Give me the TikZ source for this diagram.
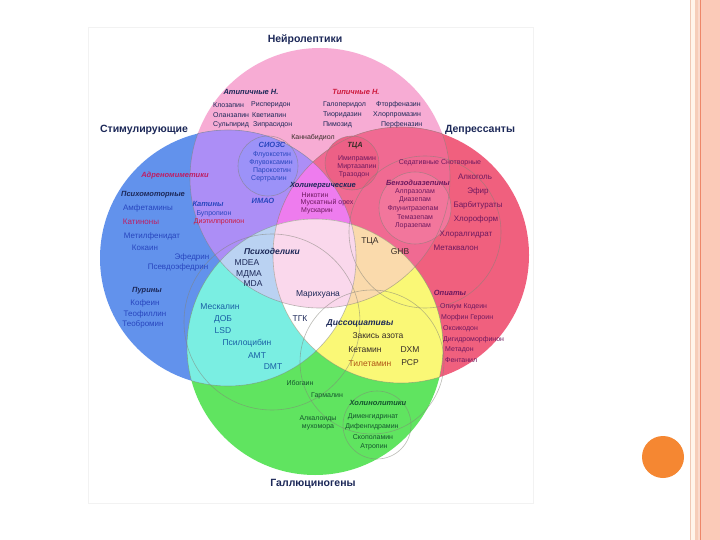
\documentclass[tikz,border=0pt]{standalone}
\usepackage{fontspec}
\setmainfont{Liberation Sans}
\definecolor{cP}{RGB}{247,172,212}
\definecolor{cB}{RGB}{98,146,236}
\definecolor{cR}{RGB}{240,96,126}
\definecolor{cG}{RGB}{96,228,96}
\definecolor{cPB}{RGB}{172,142,246}
\definecolor{cPR}{RGB}{240,106,146}
\definecolor{cBG}{RGB}{122,238,226}
\definecolor{cRG}{RGB}{250,248,118}
\definecolor{cPBR}{RGB}{238,124,238}
\definecolor{cPBG}{RGB}{186,210,242}
\definecolor{cPRG}{RGB}{250,218,172}
\definecolor{cBRG}{RGB}{255,255,255}
\definecolor{cPBRG}{RGB}{250,216,236}
\definecolor{cSSRI}{RGB}{156,146,248}
\definecolor{cTCA}{RGB}{237,96,134}
\definecolor{cBenz}{RGB}{242,118,156}
\definecolor{navy}{RGB}{28,40,88}
\definecolor{tblue}{RGB}{40,70,190}
\definecolor{tmag}{RGB}{190,30,100}
\definecolor{tpurp}{RGB}{110,25,95}
\definecolor{tteal}{RGB}{25,95,165}
\definecolor{tgreen}{RGB}{20,85,45}
\definecolor{tdark}{RGB}{55,45,40}
\definecolor{tbrown}{RGB}{175,85,20}
\definecolor{tred}{RGB}{205,25,60}
\definecolor{lineg}{RGB}{130,130,120}
\definecolor{dA}{RGB}{240,200,180}
\definecolor{dB}{RGB}{255,244,234}
\definecolor{dC}{RGB}{246,205,185}
\definecolor{dD}{RGB}{250,218,205}
\definecolor{dE}{RGB}{238,135,105}
\definecolor{dF}{RGB}{251,202,184}
\definecolor{dot}{RGB}{245,135,50}
\tikzset{
  big/.style={font=\bfseries\fontsize{10.5}{12}\selectfont, text=navy, inner sep=0pt},
  nm/.style={font=\fontsize{7}{8}\selectfont, inner sep=0pt},
  nmb/.style={font=\fontsize{8}{9}\selectfont, inner sep=0pt},
  nmc/.style={font=\fontsize{8.5}{9}\selectfont, inner sep=0pt},
  ct/.style={font=\bfseries\itshape\fontsize{7.5}{8}\selectfont, inner sep=0pt},
  gl/.style={draw=lineg, draw opacity=0.55, line width=0.6pt},
}
\def\Pc{(320,178) circle[radius=130]}
\def\Bc{(228,258) circle[radius=128]}
\def\Rc{(401,255) circle[radius=128]}
\def\Gc{(315,347) circle[radius=128]}
\begin{document}
\begin{tikzpicture}[x=1pt,y=-1pt]
\useasboundingbox (0,0) rectangle (720,540);
\fill[white] (0,0) rectangle (720,540);
\draw[black!5, line width=0.5pt] (88,27) rectangle (533,503);
% single circles
\fill[cP] \Pc; \fill[cB] \Bc; \fill[cR] \Rc; \fill[cG] \Gc;
% pairs
\begin{scope}\clip \Pc; \fill[cPB] \Bc; \end{scope}
\begin{scope}\clip \Pc; \fill[cPR] \Rc; \end{scope}
\begin{scope}\clip \Bc; \fill[cBG] \Gc; \end{scope}
\begin{scope}\clip \Rc; \fill[cRG] \Gc; \end{scope}
% triples
\begin{scope}\clip \Pc; \clip \Bc; \fill[cPBR] \Rc; \end{scope}
\begin{scope}\clip \Pc; \clip \Bc; \fill[cPBG] \Gc; \end{scope}
\begin{scope}\clip \Pc; \clip \Rc; \fill[cPRG] \Gc; \end{scope}
\begin{scope}\clip \Bc; \clip \Rc; \fill[cBRG] \Gc; \end{scope}
% all four
\begin{scope}\clip \Pc; \clip \Bc; \clip \Rc; \fill[cPBRG] \Gc; \end{scope}
% sub-circles
\begin{scope}\clip \Pc; \clip \Bc; \fill[cSSRI] (268,166) circle[radius=30]; \end{scope}
\fill[cTCA] (352,163) circle[radius=27];
\fill[cBenz] (415,208) circle[radius=36];
% inner boundaries
\begin{scope}\clip \Bc \Rc \Gc; \draw[gl] \Pc; \end{scope}
\begin{scope}\clip \Pc \Rc \Gc; \draw[gl] \Bc; \end{scope}
\begin{scope}\clip \Pc \Bc \Gc; \draw[gl] \Rc; \end{scope}
\begin{scope}\clip \Pc \Bc \Rc; \draw[gl] \Gc; \end{scope}
\draw[gl] (268,166) circle[radius=30];
\draw[gl] (352,163) circle[radius=27];
\draw[gl] (415,208) circle[radius=36];
\draw[gl] (425,232) circle[radius=76];
\draw[gl] (272,322) circle[radius=88];
\draw[gl] (372,362) circle[radius=72];
\draw[gl] (377,425) circle[radius=34];
% headers
\node[big] (neuro) at (305,40) {Нейролептики};
\node[big] (stim) at (144,130) {Стимулирующие};
\node[big] (depr) at (480,130) {Депрессанты};
\node[big] (hall) at (313,484) {Галлюциногены};
% antipsychotics
\node[ct, text=navy] (atyp) at (251,92) {Атипичные Н.};
\node[ct, text=tred] (typ) at (356,92) {Типичные Н.};
\node[nm, text=navy, anchor=west] (a1) at (213,105) {Клозапин};
\node[nm, text=navy, anchor=west] (a2) at (213,115) {Оланзапин};
\node[nm, text=navy, anchor=west] (a3) at (213,125) {Сульпирид};
\node[nm, text=navy, anchor=west] (a4) at (251,105) {Рисперидон};
\node[nm, text=navy, anchor=west] (a5) at (252,115) {Кветиапин};
\node[nm, text=navy, anchor=west] (a6) at (253,125) {Зипрасидон};
\node[nm, text=navy, anchor=west] (t1) at (323,105) {Галоперидол};
\node[nm, text=navy, anchor=west] (t2) at (323,115) {Тиоридазин};
\node[nm, text=navy, anchor=west] (t3) at (323,125) {Пимозид};
\node[nm, text=navy, anchor=west] (t4) at (376,105) {Фторфеназин};
\node[nm, text=navy, anchor=west] (t5) at (373,115) {Хлорпромазин};
\node[nm, text=navy, anchor=west] (t6) at (381,125) {Перфеназин};
\node[nm, text=tdark] (cbd) at (313,138) {Каннабидиол};
% SSRI / MAOI / TCA
\node[ct, text=tblue] (ssri) at (272,145) {СИОЗС};
\node[nm, text=tblue] (s1) at (272,155) {Флуоксетин};
\node[nm, text=tblue] (s2) at (271,163) {Флувоксамин};
\node[nm, text=tblue] (s3) at (272,171) {Пароксетин};
\node[nm, text=tblue] (s4) at (269,179) {Сертралин};
\node[ct, text=tblue] (maoi) at (263,201) {ИМАО};
\node[ct, text=tdark] (tca) at (355,146) {ТЦА};
\node[nm, text=tpurp] (c1) at (357,159) {Имипрамин};
\node[nm, text=tpurp] (c2) at (357,167) {Миртазапин};
\node[nm, text=tpurp] (c3) at (354,175) {Тразодон};
\node[ct, text=navy] (chol) at (323,186) {Холинергические};
\node[nm, text=tpurp] (h1) at (315,195) {Никотин};
\node[nm, text=tpurp] (h2) at (327,203) {Мускатный орех};
\node[nm, text=tpurp] (h3) at (317,211) {Мускарин};
% depressants
\node[nm, text=tpurp] (sed) at (440,163) {Седативные Снотворные};
\node[ct, text=tpurp] (benz) at (418,183) {Бензодиазепины};
\node[nm, text=tpurp] (b1) at (415,192) {Алпразолам};
\node[nm, text=tpurp] (b2) at (415,200) {Диазепам};
\node[nm, text=tpurp] (b3) at (413,209) {Флунитразепам};
\node[nm, text=tpurp] (b4) at (415,217) {Темазепам};
\node[nm, text=tpurp] (b5) at (413,226) {Лоразепам};
\node[nmb, text=tpurp] (d1) at (475,177) {Алкоголь};
\node[nmb, text=tpurp] (d2) at (478,191) {Эфир};
\node[nmb, text=tpurp] (d3) at (478,205) {Барбитураты};
\node[nmb, text=tpurp] (d4) at (476,219) {Хлороформ};
\node[nmb, text=tpurp] (d5) at (466,235) {Хлоралгидрат};
\node[nmb, text=tpurp] (d6) at (456,248) {Метаквалон};
% stimulants
\node[ct, text=tmag] (adr) at (175,176) {Адреномиметики};
\node[ct, text=navy] (psm) at (153,195) {Психомоторные};
\node[nmb, text=tblue] (m1) at (148,208) {Амфетамины};
\node[nmb, text=tmag] (m2) at (141,222) {Катиноны};
\node[nmb, text=tblue] (m3) at (152,236) {Метилфенидат};
\node[nmb, text=tblue] (m4) at (145,248) {Кокаин};
\node[nmb, text=tblue] (m5) at (192,257) {Эфедрин};
\node[nmb, text=tblue] (m6) at (178,267) {Псевдоэфедрин};
\node[ct, text=navy] (pur) at (147,291) {Пурины};
\node[nmb, text=tblue] (p1) at (145,303) {Кофеин};
\node[nmb, text=tblue] (p2) at (145,314) {Теофиллин};
\node[nmb, text=tblue] (p3) at (143,324) {Теобромин};
\node[ct, text=tblue] (kat) at (208,204) {Катины};
\node[nm, text=tblue] (k1) at (214,214) {Бупропион};
\node[nm, text=tred] (k2) at (219,222) {Диэтилпропион};
% centre
\node[ct, text=navy, font=\bfseries\itshape\fontsize{8.5}{9}\selectfont] (psy) at (272,251) {Психоделики};
\node[nmc, text=navy] (e1) at (247,263) {MDEA};
\node[nmc, text=navy] (e2) at (249,274) {МДМА};
\node[nmc, text=navy] (e3) at (253,284) {MDA};
\node[nmc, text=navy] (mar) at (318,294) {Марихуана};
\node[nmc, text=navy] (thc) at (300,319) {ТГК};
\node[nmc, text=tdark] (tca2) at (370,241) {ТЦА};
\node[nmc, text=tdark] (ghb) at (400,252) {GHB};
\node[ct, text=navy, font=\bfseries\itshape\fontsize{8.5}{9}\selectfont] (dis) at (360,323) {Диссоциативы};
\node[nmc, text=tdark] (x1) at (378,336) {Закись азота};
\node[nmc, text=tdark] (x2) at (365,350) {Кетамин};
\node[nmc, text=tdark] (x3) at (410,350) {DXM};
\node[nmc, text=tbrown] (x4) at (370,364) {Тилетамин};
\node[nmc, text=tdark] (x5) at (410,363) {PCP};
\node[nmc, text=tteal] (y1) at (220,307) {Мескалин};
\node[nmc, text=tteal] (y2) at (223,319) {ДОБ};
\node[nmc, text=tteal] (y3) at (223,331) {LSD};
\node[nmc, text=tteal] (y4) at (247,343) {Псилоцибин};
\node[nmc, text=tteal] (y5) at (257,356) {AMT};
\node[nmc, text=tteal] (y6) at (273,367) {DMT};
% opioids
\node[ct, text=tpurp] (opi) at (450,293) {Опиаты};
\node[nm, text=tpurp, anchor=west] (o1) at (440,307) {Опиум Кодеин};
\node[nm, text=tpurp, anchor=west] (o2) at (441,318) {Морфин Героин};
\node[nm, text=tpurp, anchor=west] (o3) at (443,329) {Оксикодон};
\node[nm, text=tpurp, anchor=west] (o4) at (443,340) {Дигидроморфинон};
\node[nm, text=tpurp, anchor=west] (o5) at (445,350) {Метадон};
\node[nm, text=tpurp, anchor=west] (o6) at (445,360) {Фентанил};
% hallucinogens bottom
\node[nm, text=tgreen] (g1) at (300,383) {Ибогаин};
\node[nm, text=tgreen] (g2) at (327,396) {Гармалин};
\node[ct, text=tgreen] (acl) at (378,403) {Холинолитики};
\node[nm, text=tgreen] (g3) at (318,419) {Алкалоиды};
\node[nm, text=tgreen] (g4) at (318,427) {мухомора};
\node[nm, text=tgreen] (g5) at (373,417) {Дименгидринат};
\node[nm, text=tgreen] (g6) at (372,427) {Дифенгидрамин};
\node[nm, text=tgreen] (g7) at (373,437) {Скополамин};
\node[nm, text=tgreen] (g8) at (374,447) {Атропин};
% slide decoration
\fill[dA] (689.5,0) rectangle (691,540);
\fill[dB] (691,0) rectangle (694.5,540);
\fill[dC] (694.5,0) rectangle (697.5,540);
\fill[dD] (697.5,0) rectangle (699.5,540);
\fill[dE] (699.5,0) rectangle (701,540);
\fill[dF] (701,0) rectangle (720,540);
\fill[dot] (663,457) circle[radius=21];
\end{tikzpicture}
\end{document}
